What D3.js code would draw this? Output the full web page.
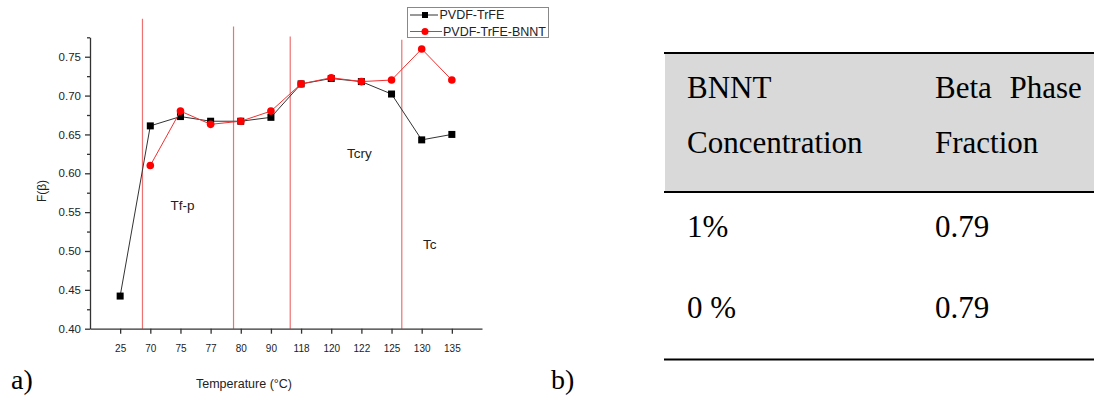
<!DOCTYPE html>
<html>
<head>
<meta charset="utf-8">
<script src="https://cdn.jsdelivr.net/npm/d3@7"></script>
<style>
  html, body { margin: 0; padding: 0; background: #fff; }
  svg { display: block; }
  .sans { font-family: "Liberation Sans", Arial, sans-serif; }
  .serif { font-family: "Liberation Serif", "Times New Roman", serif; }
</style>
</head>
<body>
<svg id="fig" width="1094" height="400"></svg>
<script>
// Annealing temperatures (categorical axis)
const temperatures = ["25", "70", "75", "77", "80", "90", "118", "120", "122", "125", "130", "135"];

// Beta phase fraction F(β) for each film
const pvdfTrfe     = [0.442, 0.661, 0.673, 0.667, 0.667, 0.672, 0.715, 0.722, 0.718, 0.702, 0.643, 0.650];
const pvdfTrfeBnnt = [null,  0.610, 0.680, 0.663, 0.667, 0.680, 0.715, 0.723, 0.718, 0.720, 0.760, 0.720];

const seriesNames = ["PVDF-TrFE", "PVDF-TrFE-BNNT"];

// Y axis ticks
const yMajorTicks = [0.40, 0.45, 0.50, 0.55, 0.60, 0.65, 0.70, 0.75];
const yMinorTicks = [0.425, 0.475, 0.525, 0.575, 0.625, 0.675, 0.725, 0.775];

// Phase boundaries (position along the category axis, top value of the marker line)
const boundaryIndex = [0.74, 3.76, 5.64, 9.34];
const boundaryTop   = [0.799, 0.789, 0.776, 0.772];

// Region labels: [text, category position, F(β) level]
const regionLabels = [["Tf-p", 2.07, 0.558], ["Tcry", 7.93, 0.626], ["Tc", 10.27, 0.508]];

// Table b)
const tableHeader1 = ["BNNT", "Concentration"];
const tableHeader2 = ["Beta Phase", "Fraction"];
const concentrations = ["1%", "0 %"];
const betaFractions = [0.79, 0.79];

const svg = d3.select("#fig");

// ---------- a) line chart ----------
const x = d3.scalePoint().domain(temperatures).range([90, 482]).padding(1);
const y = d3.scaleLinear().domain([0.40, 0.775]).range([328.7, 37.3]);
const xAt = i => x(temperatures[0]) + i * x.step();

const chart = svg.append("g").attr("class", "sans");

// phase boundary lines
chart.selectAll("line.bound")
  .data(boundaryIndex)
  .join("line")
  .attr("class", "bound")
  .attr("x1", d => xAt(d)).attr("x2", d => xAt(d))
  .attr("y1", (d, i) => y(boundaryTop[i]))
  .attr("y2", y(0.40))
  .attr("stroke", "#ee7272")
  .attr("stroke-width", 1.2);

// region labels
chart.selectAll("text.region")
  .data(regionLabels)
  .join("text")
  .attr("class", "region")
  .attr("x", d => xAt(d[1]))
  .attr("y", d => y(d[2]))
  .attr("text-anchor", "middle")
  .attr("dominant-baseline", "central")
  .attr("font-size", 13.5)
  .attr("fill", "#222")
  .text(d => d[0]);

// y axis
const yAxis = chart.append("g").attr("transform", "translate(90,0)")
  .call(d3.axisLeft(y).tickValues(yMajorTicks).tickFormat(d3.format(".2f"))
        .tickSize(5).tickSizeOuter(0).tickPadding(4));
chart.append("g").attr("transform", "translate(90,0)")
  .call(d3.axisLeft(y).tickValues(yMinorTicks).tickFormat("").tickSize(3).tickSizeOuter(0))
  .call(g => g.select(".domain").remove());
yAxis.selectAll("text").attr("font-size", 11.5).attr("fill", "#222")
  .attr("font-family", "Liberation Sans, Arial, sans-serif");

// x axis
const xAxis = chart.append("g").attr("transform", `translate(0,${y(0.40)})`)
  .call(d3.axisBottom(x).tickSize(5).tickSizeOuter(0).tickPadding(11));
xAxis.selectAll("text").attr("font-size", 10).attr("fill", "#222")
  .attr("font-family", "Liberation Sans, Arial, sans-serif");

chart.selectAll(".domain, .tick line").attr("stroke", "#333").attr("stroke-width", 1.3);

// axis titles
chart.append("text")
  .attr("transform", `translate(42,${(y(0.40) + y(0.775)) / 2 + 8}) rotate(-90)`)
  .attr("text-anchor", "middle")
  .attr("dominant-baseline", "central")
  .attr("font-size", 12).attr("fill", "#222")
  .text("F(β)");
chart.append("text")
  .attr("x", 244).attr("y", 388)
  .attr("text-anchor", "middle")
  .attr("font-size", 12.5).attr("fill", "#222")
  .text("Temperature (°C)");

// series
const lineGen = d3.line()
  .defined(d => d.v != null)
  .x(d => x(d.t)).y(d => y(d.v));
const toPts = vals => vals.map((v, i) => ({ t: temperatures[i], v }));

const blackPts = toPts(pvdfTrfe);
const redPts = toPts(pvdfTrfeBnnt).filter(d => d.v != null);

chart.append("path").datum(blackPts).attr("d", lineGen)
  .attr("fill", "none").attr("stroke", "#333").attr("stroke-width", 1);
chart.selectAll("rect.sq").data(blackPts).join("rect")
  .attr("class", "sq")
  .attr("x", d => x(d.t) - 3.5).attr("y", d => y(d.v) - 3.5)
  .attr("width", 7).attr("height", 7).attr("fill", "#000");

chart.append("path").datum(redPts).attr("d", lineGen)
  .attr("fill", "none").attr("stroke", "#f03030").attr("stroke-width", 1);
chart.selectAll("circle.dot").data(redPts).join("circle")
  .attr("class", "dot")
  .attr("cx", d => x(d.t)).attr("cy", d => y(d.v))
  .attr("r", 3.8).attr("fill", "#ff0000");

// legend
const legend = chart.append("g");
legend.append("rect")
  .attr("x", 407.5).attr("y", 7.5).attr("width", 141).attr("height", 30)
  .attr("fill", "#fff").attr("stroke", "#888").attr("stroke-width", 1);
const legendRows = [
  { name: seriesNames[0], y: 15, x2: 438, tx: 439.5, color: "#333", mark: "sq" },
  { name: seriesNames[1], y: 31.5, x2: 442, tx: 443, color: "#f03030", mark: "dot" }
];
legendRows.forEach(r => {
  legend.append("line").attr("x1", 410).attr("x2", r.x2)
    .attr("y1", r.y).attr("y2", r.y).attr("stroke", r.color).attr("stroke-width", 1);
  if (r.mark === "sq") {
    legend.append("rect").attr("x", 422).attr("y", r.y - 3)
      .attr("width", 6).attr("height", 6).attr("fill", "#000");
  } else {
    legend.append("circle").attr("cx", 425).attr("cy", r.y).attr("r", 3.5).attr("fill", "#ff0000");
  }
  legend.append("text").attr("x", r.tx).attr("y", r.y)
    .attr("dominant-baseline", "central")
    .attr("font-size", 12.5).attr("fill", "#222").text(r.name);
});

// panel letters
svg.append("text").attr("class", "serif").attr("x", 11).attr("y", 389)
  .attr("font-size", 28).attr("fill", "#000").text("a)");
svg.append("text").attr("class", "serif").attr("x", 551).attr("y", 389)
  .attr("font-size", 28).attr("fill", "#000").text("b)");

// ---------- b) table ----------
const table = svg.append("g").attr("class", "serif");
const tx0 = 665, tx1 = 1094;
table.append("rect").attr("x", tx0).attr("y", 53).attr("width", tx1 - tx0).attr("height", 139)
  .attr("fill", "#d9d9d9");
[53, 192, 359.5].forEach(yy => {
  table.append("line").attr("x1", tx0 - 1).attr("x2", tx1)
    .attr("y1", yy).attr("y2", yy).attr("stroke", "#000").attr("stroke-width", 2.2);
});
const col1 = 687, col2 = 935;
const headerBaselines = [98, 153];
tableHeader1.forEach((t, i) => {
  table.append("text").attr("x", col1).attr("y", headerBaselines[i])
    .attr("font-size", 31).attr("fill", "#000").text(t);
});
tableHeader2.forEach((t, i) => {
  table.append("text").attr("x", col2).attr("y", headerBaselines[i])
    .attr("font-size", 31).attr("fill", "#000")
    .attr("word-spacing", i === 0 ? 10 : 0).text(t);
});
const rowBaselines = [237, 318];
concentrations.forEach((c, i) => {
  table.append("text").attr("x", col1).attr("y", rowBaselines[i])
    .attr("font-size", 31).attr("fill", "#000").text(c);
  table.append("text").attr("x", col2).attr("y", rowBaselines[i])
    .attr("font-size", 31).attr("fill", "#000").text(d3.format(".2f")(betaFractions[i]));
});
</script>
</body>
</html>
